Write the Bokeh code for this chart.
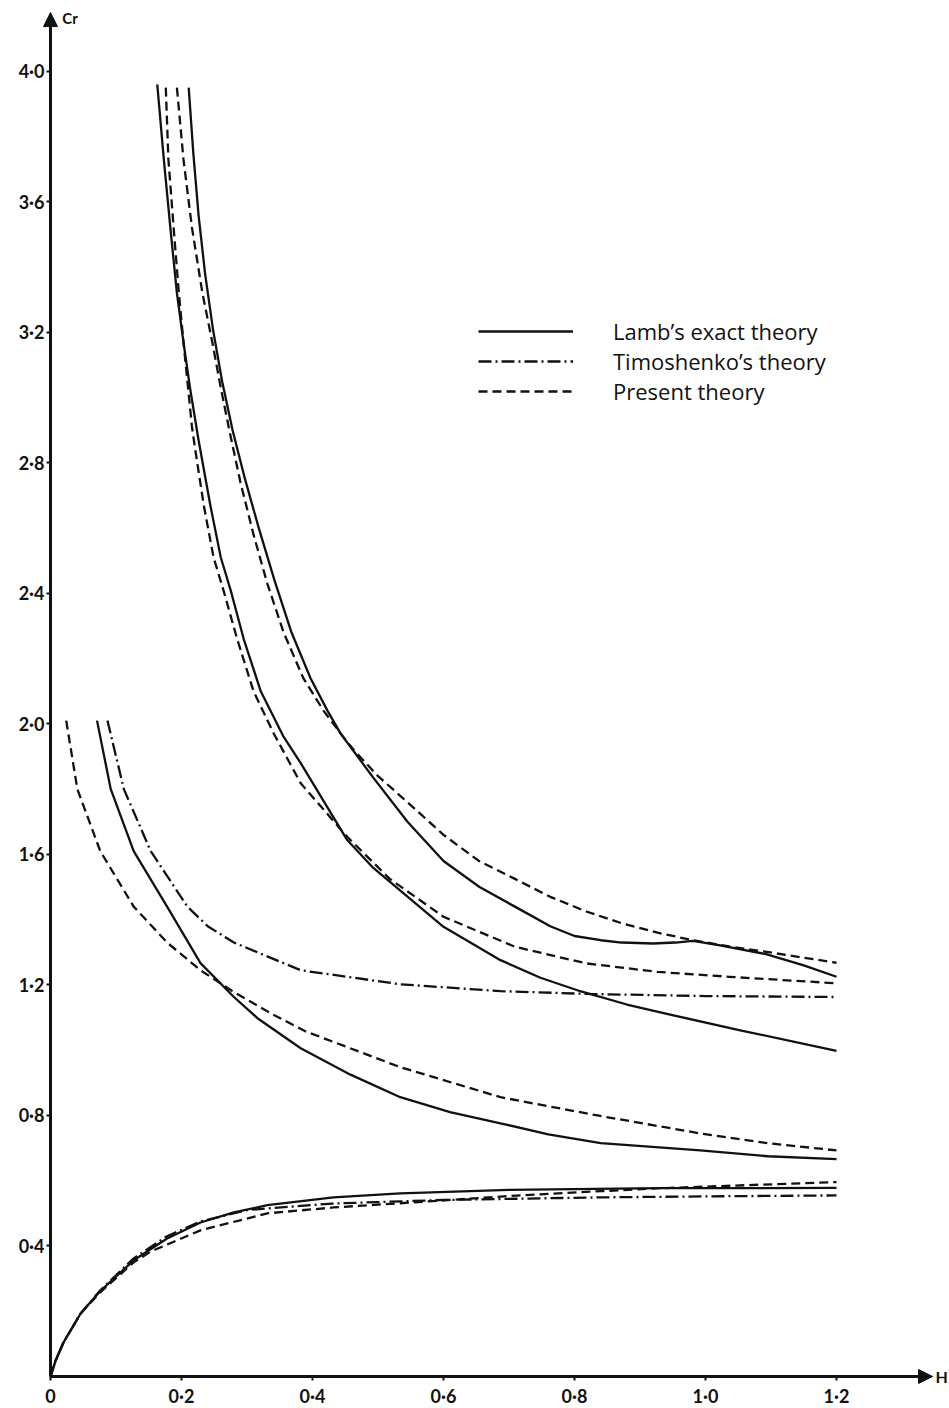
from bokeh.plotting import figure
from bokeh.models import FixedTicker, Arrow, NormalHead, Label, Legend, LegendItem
from bokeh.embed import file_html
from bokeh.resources import INLINE

# ---------------- data ----------------
# Lamb's exact theory (solid)
lamb_m1_x = [0, 0.008, 0.02, 0.046, 0.076, 0.127, 0.178, 0.229, 0.280, 0.331, 0.432, 0.534, 0.70, 0.93, 1.2]
lamb_m1_y = [0, 0.05, 0.105, 0.193, 0.262, 0.356, 0.423, 0.472, 0.503, 0.525, 0.549, 0.561, 0.572, 0.577, 0.578]
lamb_m2_x = [0.071, 0.092, 0.127, 0.178, 0.229, 0.280, 0.316, 0.382, 0.458, 0.534, 0.61, 0.687, 0.76, 0.84,
             0.992, 1.095, 1.2]
lamb_m2_y = [2.01, 1.80, 1.61, 1.44, 1.267, 1.163, 1.098, 1.006, 0.925, 0.856, 0.81, 0.776, 0.742, 0.715,
             0.693, 0.675, 0.666]
lamb_m3_x = [0.163, 0.173, 0.183, 0.193, 0.203, 0.213, 0.226, 0.244, 0.26, 0.275, 0.295, 0.321, 0.356, 0.382,
             0.453, 0.491, 0.60, 0.687, 0.748, 0.81, 0.88, 0.951, 1.053, 1.2]
lamb_m3_y = [3.96, 3.73, 3.52, 3.32, 3.17, 3.03, 2.87, 2.67, 2.51, 2.41, 2.26, 2.10, 1.96, 1.88,
             1.644, 1.562, 1.378, 1.276, 1.222, 1.18, 1.14, 1.107, 1.061, 0.998]
lamb_m4_x = [0.211, 0.218, 0.226, 0.236, 0.248, 0.262, 0.278, 0.297, 0.318, 0.342, 0.368, 0.397, 0.423, 0.443,
             0.491, 0.545, 0.60, 0.655, 0.709, 0.763, 0.80, 0.84, 0.872, 0.92, 0.954, 0.981, 1.02, 1.091,
             1.15, 1.2]
lamb_m4_y = [3.95, 3.75, 3.56, 3.38, 3.21, 3.05, 2.90, 2.75, 2.60, 2.44, 2.28, 2.14, 2.04, 1.97,
             1.84, 1.70, 1.58, 1.50, 1.44, 1.38, 1.35, 1.337, 1.33, 1.327, 1.33, 1.335, 1.322, 1.295,
             1.26, 1.225]

# Timoshenko's theory (dash-dot)
timo_m1_x = [0, 0.008, 0.02, 0.046, 0.076, 0.127, 0.178, 0.229, 0.30, 0.43, 0.60, 0.84, 1.0, 1.2]
timo_m1_y = [0, 0.05, 0.105, 0.193, 0.264, 0.362, 0.43, 0.475, 0.51, 0.53, 0.541, 0.549, 0.552, 0.555]
timo_m2_x = [0.087, 0.112, 0.153, 0.209, 0.24, 0.28, 0.382, 0.534, 0.687, 0.829, 1.0, 1.2]
timo_m2_y = [2.01, 1.80, 1.61, 1.44, 1.38, 1.33, 1.245, 1.202, 1.181, 1.172, 1.166, 1.163]

# Present theory (dashed)
pres_m1_x = [0, 0.008, 0.02, 0.046, 0.076, 0.127, 0.153, 0.229, 0.331, 0.432, 0.534, 0.70, 0.84, 0.93, 1.2]
pres_m1_y = [0, 0.05, 0.105, 0.193, 0.258, 0.35, 0.383, 0.448, 0.50, 0.518, 0.531, 0.553, 0.568, 0.577, 0.596]
pres_m2_x = [0.024, 0.041, 0.076, 0.127, 0.178, 0.229, 0.28, 0.341, 0.389, 0.534, 0.687, 0.835, 0.992, 1.095, 1.2]
pres_m2_y = [2.01, 1.80, 1.61, 1.44, 1.33, 1.245, 1.178, 1.108, 1.058, 0.948, 0.856, 0.80, 0.745, 0.715, 0.693]
pres_m3_x = [0.176, 0.18, 0.188, 0.196, 0.203, 0.216, 0.221, 0.234, 0.249, 0.264, 0.285, 0.31, 0.341, 0.382,
             0.453, 0.518, 0.60, 0.709, 0.818, 0.927, 1.036, 1.2]
pres_m3_y = [3.95, 3.73, 3.52, 3.32, 3.17, 2.91, 2.84, 2.67, 2.51, 2.41, 2.26, 2.10, 1.97, 1.818,
             1.654, 1.525, 1.409, 1.317, 1.266, 1.24, 1.225, 1.205]
pres_m4_x = [0.193, 0.203, 0.216, 0.232, 0.247, 0.26, 0.273, 0.29, 0.31, 0.331, 0.356, 0.386, 0.417, 0.447,
             0.463, 0.50, 0.545, 0.60, 0.654, 0.709, 0.763, 0.818, 0.872, 0.927, 0.981, 1.036, 1.091, 1.145, 1.2]
pres_m4_y = [3.95, 3.73, 3.52, 3.32, 3.17, 3.03, 2.90, 2.74, 2.58, 2.43, 2.28, 2.14, 2.04, 1.96,
             1.92, 1.84, 1.76, 1.66, 1.58, 1.525, 1.47, 1.425, 1.389, 1.36, 1.337, 1.318, 1.302, 1.285, 1.268]

series_labels = ["Lamb\u2019s exact theory", "Timoshenko\u2019s theory", "Present theory"]

x_ticks = [0, 0.2, 0.4, 0.6, 0.8, 1.0, 1.2]
x_tick_labels = ["0", "0\u00b72", "0\u00b74", "0\u00b76", "0\u00b78", "1\u00b70", "1\u00b72"]
y_ticks = [0.4, 0.8, 1.2, 1.6, 2.0, 2.4, 2.8, 3.2, 3.6, 4.0]
y_tick_labels = ["0\u00b74", "0\u00b78", "1\u00b72", "1\u00b76", "2\u00b70", "2\u00b74", "2\u00b78",
                 "3\u00b72", "3\u00b76", "4\u00b70"]
x_axis_name = "H"
y_axis_name = "Cr"

# ---------------- figure ----------------
INK = "#111111"
# the plotting frame fills the whole canvas; the axes are pinned to x=0 / y=0
p = figure(width=949, height=1408, x_range=(-0.07634, 1.37252), y_range=(-0.09807, 4.21698),
           output_backend="svg", toolbar_location=None,
           min_border_left=0, min_border_right=0, min_border_top=0, min_border_bottom=0)
p.grid.visible = False
p.outline_line_color = None
p.background_fill_color = "white"
p.border_fill_color = "white"

p.xaxis.ticker = FixedTicker(ticks=x_ticks)
p.xaxis.major_label_overrides = dict(zip(x_ticks, x_tick_labels))
p.yaxis.ticker = FixedTicker(ticks=y_ticks)
p.yaxis.major_label_overrides = dict(zip(y_ticks, y_tick_labels))
p.xaxis.fixed_location = 0
p.yaxis.fixed_location = 0
for ax in (p.xaxis, p.yaxis):
    ax.axis_line_color = None
    ax.major_tick_line_color = INK
    ax.major_tick_line_width = 2
    ax.major_tick_out = 4
    ax.major_tick_in = 0
    ax.minor_tick_line_color = None
    ax.major_label_text_font = "Lato"
    ax.major_label_text_font_style = "bold"
    ax.major_label_text_font_size = "18px"
    ax.major_label_text_color = INK
p.xaxis.major_label_standoff = 5
p.yaxis.major_label_standoff = 2

LW = 2.3
lamb = p.multi_line(xs=[lamb_m1_x, lamb_m2_x, lamb_m3_x, lamb_m4_x],
                    ys=[lamb_m1_y, lamb_m2_y, lamb_m3_y, lamb_m4_y],
                    line_color=INK, line_width=LW, line_join="round")
timo = p.multi_line(xs=[timo_m1_x, timo_m2_x], ys=[timo_m1_y, timo_m2_y],
                    line_color=INK, line_width=LW, line_dash="13 4 2 4", line_join="round")
pres = p.multi_line(xs=[pres_m1_x, pres_m2_x, pres_m3_x, pres_m4_x],
                    ys=[pres_m1_y, pres_m2_y, pres_m3_y, pres_m4_y],
                    line_color=INK, line_width=LW, line_dash="9 5", line_join="round")

# axis lines drawn as arrows
p.add_layout(Arrow(x_start=0, y_start=0, x_end=0, y_end=4.180, line_width=3, line_color=INK,
                   end=NormalHead(size=14, fill_color=INK, line_color=INK)))
p.add_layout(Arrow(x_start=0, y_start=0, x_end=1.3466, y_end=0, line_width=3, line_color=INK,
                   end=NormalHead(size=14, fill_color=INK, line_color=INK)))
p.add_layout(Label(x=0.018, y=4.163, text=y_axis_name, text_font="Lato", text_font_style="bold",
                   text_font_size="15px", text_color=INK, text_baseline="alphabetic"))
p.add_layout(Label(x=1.351, y=0.0, text=x_axis_name, text_font="Lato", text_font_style="bold",
                   text_font_size="16px", text_color=INK, text_baseline="middle", text_align="left"))

legend = Legend(items=[LegendItem(label=series_labels[0], renderers=[lamb]),
                       LegendItem(label=series_labels[1], renderers=[timo]),
                       LegendItem(label=series_labels[2], renderers=[pres])],
                location=(478, 1002), glyph_width=95, glyph_height=28, label_height=28,
                label_standoff=40, spacing=0, padding=0, margin=0,
                label_text_font="Open Sans", label_text_font_size="22px", label_text_color=INK,
                border_line_color=None, background_fill_alpha=0)
p.add_layout(legend)

open("out.html", "w").write(file_html(p, INLINE))
